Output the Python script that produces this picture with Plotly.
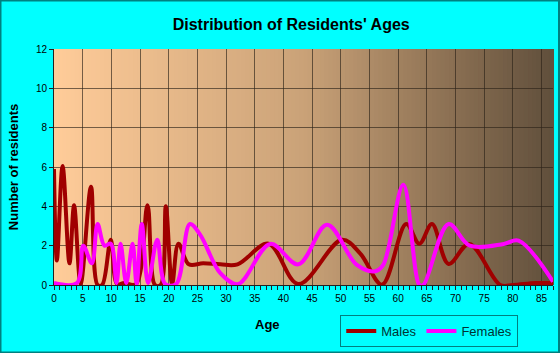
import plotly.graph_objects as go

# Data (age, number of residents)
male_age = [0, 0.5, 1.5, 2.7, 3.5, 4.65, 6.45, 7.6, 8.4, 9.9, 11.0, 12.2, 14.3, 16.3, 17.6,
            18.6, 19.5, 20.6, 21.7, 23.5, 26, 29, 32, 37.4, 42.6, 50.2, 53.4, 57.2, 61.4,
            63.7, 65.9, 68.8, 72.4, 77.8, 80, 84, 87]
male_val = [5.9, 1.25, 6.05, 1.1, 4.05, 0.05, 5.0, 0.0, 0.0, 2.3, 0.05, 0.1, 0.05, 4.05, 0.0,
            0.0, 4.0, 0.05, 2.1, 1.05, 1.1, 1.05, 1.05, 2.1, 0.05, 2.3, 1.6, 0.02, 3.1,
            2.1, 3.1, 1.07, 2.09, 0.0, 0.0, 0.1, 0.1]

female_age = [0, 4, 5.1, 6.6, 7.6, 8.8, 9.9, 10.9, 11.6, 12.6, 13.7, 14.4, 15.3, 16.4, 18.0,
              19.4, 21.3, 23.7, 25.5, 29, 32.1, 37.7, 42.6, 47.6, 52.8, 56, 57.4, 60.9,
              63.7, 64.4, 68.8, 72.5, 78.4, 81, 87]
female_val = [0.1, 0.1, 2.0, 1.1, 3.1, 2.0, 2.1, 0.1, 2.1, 0.1, 2.1, 0.05, 3.1, 0.1, 2.3,
              0.05, 0.05, 3.1, 2.55, 0.6, 0.05, 2.09, 1.05, 3.06, 1.02, 0.7, 1.02, 5.1,
              0.0, 0.0, 3.1, 2.0, 2.09, 2.26, 0.17]

x_ticks = list(range(0, 90, 5))
y_ticks = list(range(0, 14, 2))

fig = go.Figure()
fig.add_trace(go.Scatter(x=male_age, y=male_val, name="Males", mode="lines",
                         line=dict(color="#A00000", width=4, shape="spline", smoothing=1.0)))
fig.add_trace(go.Scatter(x=female_age, y=female_val, name="Females", mode="lines",
                         line=dict(color="#FF00FF", width=4, shape="spline", smoothing=1.0)))

# gradient background
stops = [(0.0, (255, 204, 153)), (0.5, (202, 162, 120)), (0.8, (138, 111, 82)), (1.0, (96, 79, 60))]
def col(t):
    for i in range(len(stops) - 1):
        t0, c0 = stops[i]
        t1, c1 = stops[i + 1]
        if t0 <= t <= t1:
            f = (t - t0) / (t1 - t0)
            return "rgb(%d,%d,%d)" % tuple(round(c0[k] + (c1[k] - c0[k]) * f) for k in range(3))
    return "rgb(%d,%d,%d)" % stops[-1][1]

shapes = []
N = 120
for i in range(N):
    shapes.append(dict(type="rect", xref="x domain", yref="y domain",
                       x0=i / N, x1=(i + 1) / N + 0.002, y0=0, y1=1,
                       fillcolor=col((i + 0.5) / N), line=dict(width=0), layer="below"))
# figure border
shapes.append(dict(type="rect", xref="paper", yref="paper", x0=-53.5/499, x1=1.0+6/499, y0=-67.5/236, y1=1+48.5/236,
                   line=dict(color="#008080", width=2), layer="above"))

fig.update_layout(
    width=560, height=353,
    margin=dict(l=54, r=7, t=49, b=68, autoexpand=False),
    paper_bgcolor="#00FFFF",
    plot_bgcolor="#FFCC99",
    shapes=shapes,
    title=dict(text="<b>Distribution of Residents' Ages</b>", x=0.52, xanchor="center",
               y=1 - 24 / 353, yanchor="middle",
               font=dict(family="Arial, Liberation Sans, sans-serif", size=16, color="#000000")),
    font=dict(family="Arial, Liberation Sans, sans-serif", color="#000000"),
    showlegend=True,
    legend=dict(orientation="h", x=521 / 560, xanchor="right", y=-30 / 236, yanchor="top",
                xref="paper", yref="paper",
                bgcolor="#00FFFF", bordercolor="#008080", borderwidth=1,
                font=dict(size=13, color="#003333"), itemwidth=30,
                tracegroupgap=0),
    annotations=[dict(text="<b>Age</b>", xref="paper", yref="paper", x=(267 - 54) / 499, y=-39 / 236,
                      xanchor="center", yanchor="middle", showarrow=False,
                      font=dict(size=13, color="#000000"))],
)
fig.update_xaxes(range=[0, 87], tickvals=x_ticks, ticktext=[str(v) for v in x_ticks],
                 showgrid=True, gridcolor="rgba(45,35,25,0.65)", gridwidth=1,
                 ticks="outside", ticklen=4, tickcolor="#222222",
                 minor=dict(dtick=1, ticks="outside", ticklen=4, tickcolor="#222222", showgrid=False),
                 showline=True, linecolor="#222222", linewidth=1,
                 tickfont=dict(size=10), zeroline=False)
fig.update_yaxes(range=[0, 12], tickvals=y_ticks, showgrid=True, gridcolor="rgba(45,35,25,0.65)",
                 gridwidth=1, ticks="outside", ticklen=4, tickcolor="#222222",
                 showline=True, linecolor="#222222", linewidth=1, zeroline=False,
                 tickfont=dict(size=10),
                 title=dict(text="<b>Number of residents</b>", font=dict(size=13), standoff=14))

fig.write_html("out.html")
